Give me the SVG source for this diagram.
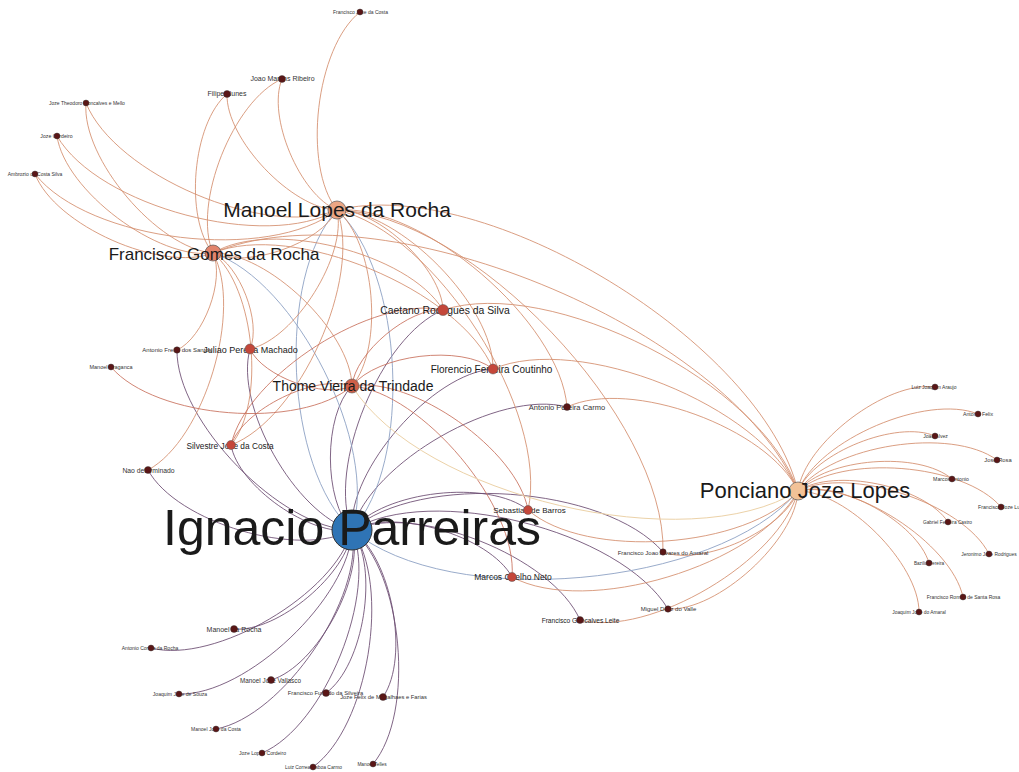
<svg xmlns="http://www.w3.org/2000/svg" width="1019" height="772" viewBox="0 0 1019 772">
<style>
.e{fill:none;stroke-width:1}
.ei{stroke:#6a4a70;stroke-opacity:.85}
.eb{stroke:#8ea2c4;stroke-opacity:.9}
.eo{stroke:#d38d6c;stroke-opacity:.85}
.er{stroke:#c8705c;stroke-opacity:.85}
.ey{stroke:#ecd2a8}
.lab{font-family:"Liberation Sans",Arial,sans-serif;text-anchor:middle;fill:#1a1a1a}
.sl{fill:#333}
.sm{fill:#5a1616;stroke:#333;stroke-width:.4}
.md{fill:#c4473a;stroke:#555;stroke-width:.5}
</style>
<rect width="1019" height="772" fill="#fff"/>
<g id="edges" class="e">
<g class="ei">
<path d="M352 530 C348.2 573.4 277.4 632.8 234 629"/>
<path d="M352 530 C335.4 593.8 214.8 664.6 151 648"/>
<path d="M352 530 C365.8 576.2 317.2 666.2 271 680"/>
<path d="M352 530 C350.2 597.4 246.4 695.8 179 694"/>
<path d="M352 530 C364.6 597 283 716.4 216 729"/>
<path d="M352 530 C378.6 592.6 324.6 726.4 262 753"/>
<path d="M352 530 C379.4 567.8 363.8 665.6 326 693"/>
<path d="M352 530 C391.6 585.2 368.2 727.4 313 767"/>
<path d="M352 530 C391.6 557.2 410.2 657.4 383 697"/>
<path d="M352 530 C403 572.6 415.6 713 373 764"/>
<path d="M352 530 C393.4 507.4 489.4 535.6 512 577"/>
<path d="M352 530 C415.6 502.4 552.4 556.4 580 620"/>
<path d="M352 530 C431 482.6 620.6 530 668 609"/>
<path d="M352 530 C418.6 472.2 605.2 485.4 663 552"/>
<path d="M352 530 C383.2 490.8 488.8 478.8 528 510"/>
<path d="M352 530 C370.4 462.4 499.4 388.6 567 407"/>
<path d="M352 530 C326.2 467.8 380.8 335.8 443 310"/>
<path d="M352 530 C348 469.6 432.6 373 493 369"/>
<path d="M352 530 C323.2 501.2 323.2 414.8 352 386"/>
<path d="M352 530 C295.4 514.2 234.2 405.6 250 349"/>
<path d="M352 530 C281 529 176 421 177 350"/>
<path d="M352 530 C310.8 537.2 238.2 486.2 231 445"/>
<path d="M352 530 C299.2 558.8 176.8 522.8 148 470"/>
</g>
<g class="eb">
<path d="M337 210 C404 271 413 463 352 530"/>
<path d="M352 530 C285 469 276 277 337 210"/>
<path d="M213 253 C296.2 280.6 379.6 446.8 352 530"/>
<path d="M798 491 C716.6 588 449 611.4 352 530"/>
</g>
<g class="eo">
<path d="M337 210 C302 165.8 315.8 47 360 12"/>
<path d="M337 210 C299.8 194.8 266.8 116.2 282 79"/>
<path d="M337 210 C291.8 208.8 225.8 139.2 227 94"/>
<path d="M337 210 C265.4 238.8 114.8 174.6 86 103"/>
<path d="M337 210 C266.2 251.2 98.2 206.8 57 136"/>
<path d="M337 210 C269.4 263.2 88.2 241.6 35 174"/>
<path d="M337 210 C320.8 243.4 246.4 269.2 213 253"/>
<path d="M337 210 C378.2 208.8 441.8 268.8 443 310"/>
<path d="M337 210 C400 210.6 493.6 306 493 369"/>
<path d="M337 210 C422.4 203.4 560.4 321.6 567 407"/>
<path d="M337 210 C375.2 242.2 384.2 347.8 352 386"/>
<path d="M337 210 C347.4 255.2 295.2 338.6 250 349"/>
<path d="M337 210 C362.8 278.2 299.2 419.2 231 445"/>
<path d="M337 210 C435.2 231.8 549.8 411.8 528 510"/>
<path d="M337 210 C485.4 174 762 342.6 798 491"/>
<path d="M337 210 C470.6 213.2 666.2 418.4 663 552"/>
<path d="M213 253 C184 218.4 192.4 123 227 94"/>
<path d="M213 253 C192 204.4 233.4 100 282 79"/>
<path d="M213 253 C157.6 248.4 81.4 158.4 86 103"/>
<path d="M213 253 C158.4 260.8 64.8 190.6 57 136"/>
<path d="M213 253 C161.6 272.8 54.8 225.4 35 174"/>
<path d="M213 253 C267.4 251.8 350.8 331.6 352 386"/>
<path d="M213 253 C270.4 218.4 408.4 252.6 443 310"/>
<path d="M213 253 C239.6 264.8 261.8 322.4 250 349"/>
<path d="M213 253 C255 287.8 265.8 403 231 445"/>
<path d="M213 253 C377.6 183.6 728.6 326.4 798 491"/>
<path d="M213 253 C243.4 309.4 204.4 439.6 148 470"/>
<path d="M213 253 C225.2 279.6 203.6 337.8 177 350"/>
<path d="M213 253 C292.2 220.2 460.2 289.8 493 369"/>
<path d="M443 310 C550.2 275.2 763.2 383.8 798 491"/>
<path d="M493 369 C578.4 332.4 761.4 405.6 798 491"/>
<path d="M567 407 C630 377.6 768.6 428 798 491"/>
<path d="M798 491 C747.8 548.8 585.8 560.2 528 510"/>
<path d="M798 491 C758 565.4 586.4 617 512 577"/>
<path d="M798 491 C780.2 560.4 649.4 637.8 580 620"/>
<path d="M798 491 C795.6 540.6 717.6 611.4 668 609"/>
<path d="M798 491 C783.2 530.2 702.2 566.8 663 552"/>
<path d="M798 491 C804.6 442.8 886.8 380.4 935 387"/>
<path d="M798 491 C818.6 439.6 926.6 393.4 978 414"/>
<path d="M798 491 C814.4 452.6 896.6 419.6 935 436"/>
<path d="M798 491 C831.6 445 951 426.4 997 460"/>
<path d="M798 491 C826.4 457.8 918.8 450.6 952 479"/>
<path d="M798 491 C841.8 453.6 963.6 463.2 1001 507"/>
<path d="M798 491 C834.2 467.2 924.2 485.8 948 522"/>
<path d="M798 491 C848.8 465.4 963.4 503.2 989 554"/>
<path d="M798 491 C838.6 479.2 917.2 522.4 929 563"/>
<path d="M798 491 C852.2 479.2 951.2 542.8 963 597"/>
<path d="M798 491 C846.4 491 919 563.6 919 612"/>
</g>
<g class="er">
<path d="M352 386 C300 430.4 155.4 419 111 367"/>
<path d="M231 445 C243.4 409 316 373.6 352 386"/>
<path d="M231 445 C246.4 375.6 373.6 294.6 443 310"/>
<path d="M352 386 C355 352.6 409.6 307 443 310"/>
<path d="M352 386 C376.8 354.4 461.4 344.2 493 369"/>
<path d="M352 386 C412 375.6 517.6 450 528 510"/>
<path d="M352 386 C422.2 392.2 518.2 506.8 512 577"/>
<path d="M352 386 C324.2 399 263 376.8 250 349"/>
</g>
<path class="ey" d="M798 491 C687.8 559.2 420.2 496.2 352 386"/>
</g>
<g id="n-ignacio"><circle cx="352" cy="530" r="20" fill="#2f74b5" stroke="#333" stroke-width="1"/><text class="lab" x="352" y="545" font-size="50">Ignacio Parreiras</text></g>
<g id="n-manoel-lopes"><circle cx="337" cy="210" r="9" fill="#eba684" stroke="#555" stroke-width=".7"/><text class="lab" x="337" y="217" font-size="21">Manoel Lopes da Rocha</text></g>
<g id="n-francisco-gomes"><circle cx="213" cy="253" r="8" fill="#e2846c" stroke="#555" stroke-width=".7"/><text class="lab" x="214" y="260" font-size="17">Francisco Gomes da Rocha</text></g>
<g id="n-ponciano"><circle cx="798" cy="491" r="9" fill="#f2c297" stroke="#555" stroke-width=".7"/><text class="lab" x="805" y="498" font-size="22">Ponciano Joze Lopes</text></g>
<g id="n-thome"><circle cx="352" cy="386" r="7" fill="#cf5f48" stroke="#555" stroke-width=".6"/><text class="lab" x="353" y="391" font-size="14">Thome Vieira da Trindade</text></g>
<g id="n-caetano"><text class="lab" x="445" y="314" font-size="10.4">Caetano Rodrigues da Silva</text><circle class="md" cx="443" cy="310" r="5.5"/></g>
<g id="n-florencio"><text class="lab" x="491.5" y="373" font-size="10">Florencio Ferreira Coutinho</text><circle class="md" cx="493" cy="369" r="5"/></g>
<g id="n-antonio-pereira"><text class="lab sl" x="567" y="410" font-size="7.5">Antonio Pereira Carmo</text><circle class="sm" cx="567" cy="407" r="3.5"/></g>
<g id="n-juliao"><text class="lab" x="250.5" y="353" font-size="9">Juliao Pereira Machado</text><circle class="md" cx="250" cy="349" r="5"/></g>
<g id="n-antonio-freire"><text class="lab sl" x="177" y="352" font-size="6">Antonio Freire dos Santos</text><circle class="sm" cx="177" cy="350" r="3.2"/></g>
<g id="n-manoel-braganca"><text class="lab sl" x="111" y="369" font-size="5.5">Manoel Braganca</text><circle class="sm" cx="111" cy="367" r="3"/></g>
<g id="n-silvestre"><text class="lab" x="230" y="449" font-size="8.3">Silvestre Jose da Costa</text><circle class="md" cx="231" cy="445" r="4.5"/></g>
<g id="n-nao-determinado"><text class="lab sl" x="148.5" y="473" font-size="6.8">Nao determinado</text><circle class="sm" cx="148" cy="470" r="3.5"/></g>
<g id="n-sebastiao"><text class="lab" x="529.5" y="513" font-size="8">Sebastiao de Barros</text><circle class="md" cx="528" cy="510" r="4.5"/></g>
<g id="n-francisco-joao"><text class="lab sl" x="663" y="555" font-size="6">Francisco Joao Alvares do Amaral</text><circle class="sm" cx="663" cy="552" r="3.2"/></g>
<g id="n-marcos-coelho"><text class="lab" x="513" y="580" font-size="8.5">Marcos Coelho Neto</text><circle class="md" cx="512" cy="577" r="4.5"/></g>
<g id="n-miguel"><text class="lab sl" x="668.5" y="611" font-size="6">Miguel Diniz do Valle</text><circle class="sm" cx="668" cy="609" r="3.2"/></g>
<g id="n-francisco-goncalves"><text class="lab" x="580.5" y="623" font-size="6.6">Francisco Goncalves Leite</text><circle class="sm" cx="580" cy="620" r="3.5"/></g>
<g id="n-francisco-jose-costa"><text class="lab sl" x="360.5" y="14" font-size="5">Francisco Jose da Costa</text><circle class="sm" cx="360" cy="12" r="3"/></g>
<g id="n-joao-martins"><text class="lab sl" x="282.5" y="81" font-size="7">Joao Martins Ribeiro</text><circle class="sm" cx="282" cy="79" r="3.5"/></g>
<g id="n-filipe"><text class="lab sl" x="227" y="96" font-size="7">Filipe Nunes</text><circle class="sm" cx="227" cy="94" r="3.5"/></g>
<g id="n-joze-theodoro"><text class="lab sl" x="87" y="105" font-size="5">Joze Theodoro Goncalves e Mello</text><circle class="sm" cx="86" cy="103" r="3"/></g>
<g id="n-joze-cordeiro"><text class="lab sl" x="56.5" y="138" font-size="5.2">Joze Cordeiro</text><circle class="sm" cx="57" cy="136" r="3"/></g>
<g id="n-ambrozio"><text class="lab sl" x="35" y="176" font-size="5">Ambrozio da Costa Silva</text><circle class="sm" cx="35" cy="174" r="3"/></g>
<g id="n-luiz-joaquim"><text class="lab sl" x="934" y="389" font-size="5">Luiz Joaquim Araujo</text><circle class="sm" cx="935" cy="387" r="3"/></g>
<g id="n-antonio-felix"><text class="lab sl" x="978" y="416" font-size="5.2">Antonio Felix</text><circle class="sm" cx="978" cy="414" r="3"/></g>
<g id="n-joao-alvez"><text class="lab sl" x="935.5" y="438" font-size="5.1">Joao Alvez</text><circle class="sm" cx="935" cy="436" r="3"/></g>
<g id="n-jose-rosa"><text class="lab sl" x="998" y="462" font-size="5.8">Jose Rosa</text><circle class="sm" cx="997" cy="460" r="3"/></g>
<g id="n-marcos-antonio"><text class="lab sl" x="951" y="481" font-size="5.2">Marcos Antonio</text><circle class="sm" cx="952" cy="479" r="3"/></g>
<g id="n-francisco-jose-lu"><text class="sl" x="978" y="509" font-size="5.2" font-family="Liberation Sans, Arial, sans-serif">Francisco Joze Lu</text><circle class="sm" cx="1001" cy="507" r="3"/></g>
<g id="n-gabriel"><text class="lab sl" x="947.5" y="524" font-size="4.8">Gabriel Ferreira Castro</text><circle class="sm" cx="948" cy="522" r="3"/></g>
<g id="n-jeronimo"><text class="lab sl" x="989" y="556" font-size="4.9">Jeronimo Jose Rodrigues</text><circle class="sm" cx="989" cy="554" r="3"/></g>
<g id="n-bazilio"><text class="lab sl" x="929" y="565" font-size="4.7">Bazilio Pereira</text><circle class="sm" cx="929" cy="563" r="3"/></g>
<g id="n-francisco-romao"><text class="lab sl" x="963.5" y="599" font-size="5">Francisco Romao de Santa Rosa</text><circle class="sm" cx="963" cy="597" r="3"/></g>
<g id="n-joaquim-amaral"><text class="lab sl" x="919" y="614" font-size="4.9">Joaquim Jose do Amaral</text><circle class="sm" cx="919" cy="612" r="3"/></g>
<g id="n-manoel-rocha"><text class="lab sl" x="234" y="632" font-size="7">Manoel da Rocha</text><circle class="sm" cx="234" cy="629" r="3.5"/></g>
<g id="n-antonio-correa"><text class="lab sl" x="150" y="650" font-size="5">Antonio Correa da Rocha</text><circle class="sm" cx="151" cy="648" r="3"/></g>
<g id="n-manoel-vallasco"><text class="lab sl" x="270.5" y="683" font-size="6.3">Manoel Jose Vallasco</text><circle class="sm" cx="271" cy="680" r="3.5"/></g>
<g id="n-joaquim-souza"><text class="lab sl" x="180" y="696" font-size="5.1">Joaquim Jose de Souza</text><circle class="sm" cx="179" cy="694" r="3"/></g>
<g id="n-manoel-jose-costa"><text class="lab sl" x="216" y="731" font-size="5">Manoel Jose da Costa</text><circle class="sm" cx="216" cy="729" r="3"/></g>
<g id="n-joze-lopes"><text class="lab sl" x="262.5" y="755" font-size="5.1">Joze Lopes Cordeiro</text><circle class="sm" cx="262" cy="753" r="3"/></g>
<g id="n-francisco-furtado"><text class="lab sl" x="325.5" y="695" font-size="5.8">Francisco Furtado da Silveira</text><circle class="sm" cx="326" cy="693" r="3.5"/></g>
<g id="n-joze-felix"><text class="lab sl" x="383.5" y="699" font-size="5.8">Joze Felix de Magalhaes e Farias</text><circle class="sm" cx="383" cy="697" r="3.5"/></g>
<g id="n-luiz-correa"><text class="lab sl" x="313.5" y="769" font-size="4.9">Luiz Correa Lisboa Carmo</text><circle class="sm" cx="313" cy="767" r="3"/></g>
<g id="n-manoel-telles"><text class="lab sl" x="372" y="766" font-size="4.8">Manoel Telles</text><circle class="sm" cx="373" cy="764" r="3"/></g>
</svg>
